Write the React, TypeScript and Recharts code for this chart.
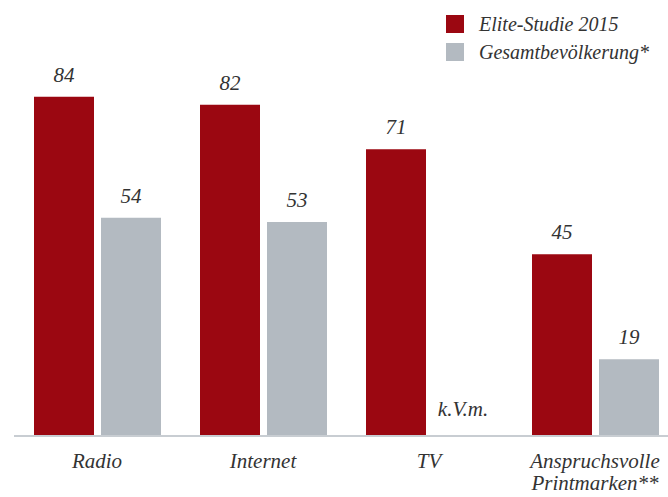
import { Bar, BarChart, LabelList, XAxis, YAxis } from "recharts";

const CATEGORIES = ["Radio", "Internet", "TV", "Anspruchsvolle\nPrintmarken**"];
const ELITE = [84, 82, 71, 45];
const GESAMT: (number | null)[] = [54, 53, null, 19];
const NO_VALUE_TEXT = "k.V.m.";

const RED = "#9B0711";
const GRAY = "#B3BAC1";
const TEXT = "#333333";
const FONT = "Liberation Serif";
const BAR_GAP = 7;

const data = CATEGORIES.map((name, i) => ({
  name,
  elite: ELITE[i],
  gesamt: GESAMT[i],
}));

function CategoryTick(props: any) {
  const { x, y, payload } = props;
  const lines = String(payload.value).split("\n");
  return (
    <text
      x={x}
      y={y}
      textAnchor="middle"
      fill={TEXT}
      fontFamily={FONT}
      fontStyle="italic"
      fontSize={21}
    >
      {lines.map((l, i) => (
        <tspan key={i} x={x} dy={i === 0 ? 24 : 22}>
          {l}
        </tspan>
      ))}
    </text>
  );
}

function ValueLabel(props: any) {
  const { x, y, width, value } = props;
  if (value == null) return null;
  return (
    <text
      x={x + width / 2}
      y={y - 15}
      textAnchor="middle"
      fill={TEXT}
      fontFamily={FONT}
      fontStyle="italic"
      fontSize={21}
    >
      {value}
    </text>
  );
}

// "k.V.m." goes where the missing grey bar would stand, next to the red one
function MissingLabel(props: any) {
  const { x, y, width, height, index } = props;
  if (GESAMT[index] != null) return null;
  return (
    <text
      x={x + width + BAR_GAP + width / 2}
      y={y + height - 20}
      textAnchor="middle"
      fill={TEXT}
      fontFamily={FONT}
      fontStyle="italic"
      fontSize={21}
    >
      {NO_VALUE_TEXT}
    </text>
  );
}

function LegendBox() {
  const items = [
    { label: "Elite-Studie 2015", color: RED },
    { label: "Gesamtbevölkerung*", color: GRAY },
  ];
  return (
    <div
      style={{
        position: "absolute",
        top: 10,
        left: 446,
        fontFamily: FONT,
        fontStyle: "italic",
        fontSize: 20,
        color: TEXT,
      }}
    >
      {items.map((it) => (
        <div key={it.label} style={{ display: "flex", alignItems: "center", height: 28 }}>
          <span
            style={{
              display: "inline-block",
              width: 18,
              height: 18,
              background: it.color,
              marginRight: 15,
            }}
          />
          <span style={{ whiteSpace: "nowrap" }}>{it.label}</span>
        </div>
      ))}
    </div>
  );
}

export default function App() {
  return (
    <div style={{ width: 668, height: 497, overflow: "hidden", position: "relative" }}>
      <style>{`body{margin:0;overflow:hidden}`}</style>
      <BarChart
        width={678}
        height={497}
        data={data}
        margin={{ top: 32, right: 0, bottom: 0, left: 14 }}
        barSize={60}
        barGap={BAR_GAP}
      >
        <XAxis
          dataKey="name"
          height={61}
          tickLine={false}
          axisLine={{ stroke: "#C8CDD2", strokeWidth: 2 }}
          tick={<CategoryTick />}
          interval={0}
        />
        <YAxis hide domain={[0, 100]} />
        <Bar dataKey="elite" fill={RED} isAnimationActive={false}>
          <LabelList dataKey="elite" content={<ValueLabel />} />
          <LabelList dataKey="elite" content={<MissingLabel />} />
        </Bar>
        <Bar dataKey="gesamt" fill={GRAY} isAnimationActive={false}>
          <LabelList dataKey="gesamt" content={<ValueLabel />} />
        </Bar>
      </BarChart>
      <LegendBox />
    </div>
  );
}
